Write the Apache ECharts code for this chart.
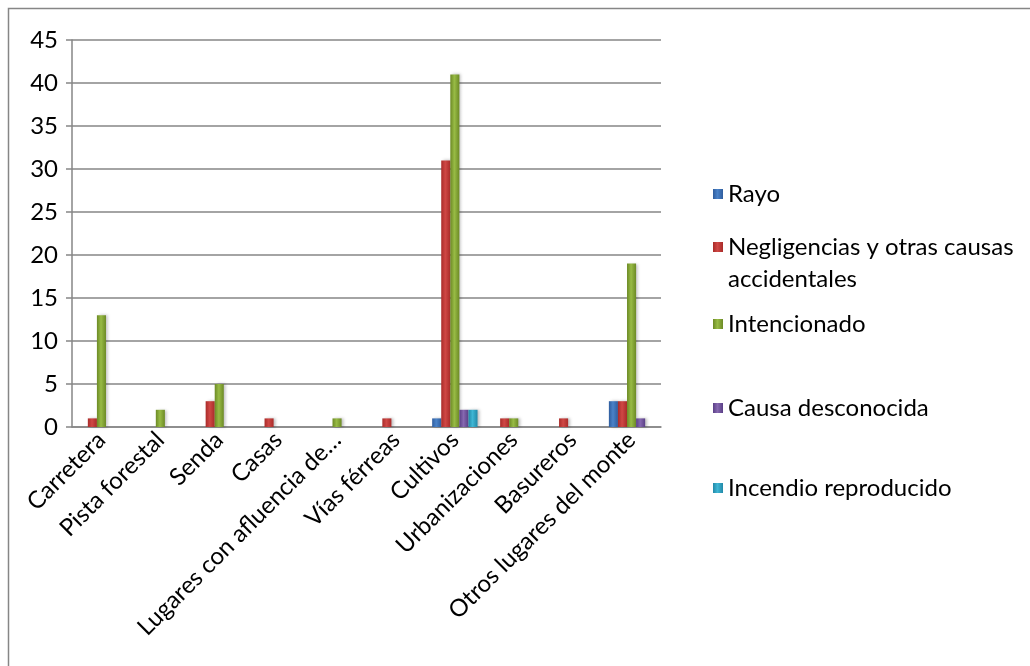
<!DOCTYPE html>
<html>
<head>
<meta charset="utf-8">
<script src="https://cdn.jsdelivr.net/npm/echarts@6/dist/echarts.min.js"></script>
<style>
  html, body { margin: 0; padding: 0; background: #fff; }
  #chart { width: 1030px; height: 666px; }
</style>
</head>
<body>
<div id="chart"></div>
<script>
// categories (as shown on the axis)
var categories = ['Carretera', 'Pista forestal', 'Senda', 'Casas', 'Lugares con afluencia de…',
    'Vías férreas', 'Cultivos', 'Urbanizaciones', 'Basureros', 'Otros lugares del monte'];

// series values, one per category
var rayo         = [0, 0, 0, 0, 0, 0, 1, 0, 0, 3];
var negligencias = [1, 0, 3, 1, 0, 1, 31, 1, 1, 3];
var intencionado = [13, 2, 5, 0, 1, 0, 41, 1, 0, 19];
var desconocida  = [0, 0, 0, 0, 0, 0, 2, 0, 0, 1];
var reproducido  = [0, 0, 0, 0, 0, 0, 2, 0, 0, 0];

var yTicks = [0, 5, 10, 15, 20, 25, 30, 35, 40, 45];

var seriesNames = ['Rayo', 'Negligencias y otras causas accidentales', 'Intencionado',
    'Causa desconocida', 'Incendio reproducido'];
var seriesData = [rayo, negligencias, intencionado, desconocida, reproducido];
// [dark edge, light middle]
var seriesColors = [
    ['#2f5d9e', '#4a82c8'],
    ['#a92b29', '#cf4845'],
    ['#6c8a25', '#98bb45'],
    ['#5a3f86', '#8668b0'],
    ['#2289a8', '#3fb6d4']
];
var legendTops = [181, 231, 311, 395, 475];

var font = 'Lato, "Open Sans", sans-serif';
var fs = 24;

var chart = echarts.init(document.getElementById('chart'));

function grad(c) {
    return new echarts.graphic.LinearGradient(0, 0, 1, 0, [
        { offset: 0, color: c[0] },
        { offset: 0.45, color: c[1] },
        { offset: 1, color: c[0] }
    ]);
}

// icon paths: a 10x10 square placed where the first text line sits
var iconOne = 'path://M0,0h0.01v0.01zM0,8h10v10h-10zM9.99,25.99h0.01v0.01z';
var iconTwo = 'path://M0,0h0.01v0.01zM0,11h10v10h-10zM9.99,63.99h0.01v0.01z';

var series = [];
var legends = [];
for (var i = 0; i < seriesNames.length; i++) {
    series.push({
        name: seriesNames[i],
        type: 'bar',
        data: seriesData[i],
        barGap: '0%',
        barCategoryGap: '23%',
        itemStyle: {
            color: grad(seriesColors[i]),
            shadowColor: 'rgba(0,0,0,0.25)',
            shadowBlur: 3,
            shadowOffsetX: 2
        }
    });
    var two = (i === 1);
    legends.push({
        data: [seriesNames[i]],
        left: 713,
        top: legendTops[i],
        padding: 0,
        orient: 'vertical',
        selectedMode: false,
        itemWidth: 10,
        itemHeight: two ? 64 : 26,
        icon: two ? iconTwo : iconOne,
        itemStyle: { color: grad(seriesColors[i]) },
        formatter: two ? function (n) { return 'Negligencias y otras causas\naccidentales'; } : '{name}',
        textStyle: {
            fontFamily: font,
            fontSize: fs,
            color: '#000',
            lineHeight: two ? 32 : 26
        }
    });
}

option = {
    animation: false,
    backgroundColor: '#fff',
    textStyle: { fontFamily: font },
    graphic: [{
        type: 'rect',
        shape: { x: 8.5, y: 8.5, width: 1030, height: 666 },
        style: { fill: 'none', stroke: '#868686', lineWidth: 1.5 },
        silent: true
    }],
    legend: legends,
    grid: { left: 72, right: 369, top: 40, bottom: 239, containLabel: false },
    xAxis: {
        type: 'category',
        data: categories,
        axisLine: { lineStyle: { color: '#868686', width: 1.5 } },
        axisTick: { length: 6, lineStyle: { color: '#868686', width: 1.5 } },
        axisLabel: {
            interval: 0,
            rotate: 45,
            margin: 9,
            fontFamily: font,
            fontSize: fs,
            color: '#000'
        }
    },
    yAxis: {
        type: 'value',
        min: yTicks[0],
        max: yTicks[yTicks.length - 1],
        interval: 5,
        axisLine: { show: true, lineStyle: { color: '#868686', width: 1.5 } },
        axisTick: { show: true, length: 6, lineStyle: { color: '#868686', width: 1.5 } },
        splitLine: { lineStyle: { color: '#868686', width: 1.5 } },
        axisLabel: {
            margin: 14,
            fontFamily: font,
            fontSize: fs,
            color: '#000'
        }
    },
    series: series
};

if (option && typeof option === "object") {
    chart.setOption(option, false);
}
</script>
</body>
</html>
